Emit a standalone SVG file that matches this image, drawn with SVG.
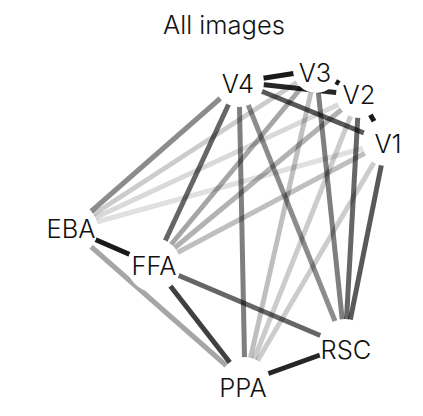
<svg xmlns="http://www.w3.org/2000/svg" width="423" height="416" viewBox="0 0 423 416">
<style>
.e{stroke:#000;stroke-width:5;stroke-linecap:butt;fill:none}
.n{fill:#fff;stroke:none}
.t{font-family:Inter,"Liberation Sans",sans-serif;font-size:25.5px;font-weight:350;fill:#111;text-anchor:middle}
</style>
<rect width="423" height="416" fill="#fff"/>
<text class="t" x="224" y="34">All images</text>
<g id="connectors">
<line class="e" x1="239" y1="82" x2="316" y2="70" stroke-opacity="0.9"/>
<line class="e" x1="239" y1="82" x2="359" y2="95" stroke-opacity="0.85"/>
<line class="e" x1="239" y1="82" x2="386" y2="142" stroke-opacity="0.65"/>
<line class="e" x1="316" y1="70" x2="359" y2="95" stroke-opacity="0.9"/>
<line class="e" x1="359" y1="95" x2="386" y2="142" stroke-opacity="0.9"/>
<line class="e" x1="239" y1="82" x2="71" y2="229" stroke-opacity="0.45"/>
<line class="e" x1="239" y1="82" x2="154" y2="265" stroke-opacity="0.6"/>
<line class="e" x1="239" y1="82" x2="245" y2="382" stroke-opacity="0.5"/>
<line class="e" x1="239" y1="82" x2="345" y2="346" stroke-opacity="0.45"/>
<line class="e" x1="316" y1="70" x2="71" y2="229" stroke-opacity="0.2"/>
<line class="e" x1="316" y1="70" x2="154" y2="265" stroke-opacity="0.35"/>
<line class="e" x1="316" y1="70" x2="245" y2="382" stroke-opacity="0.25"/>
<line class="e" x1="316" y1="70" x2="345" y2="346" stroke-opacity="0.5"/>
<line class="e" x1="359" y1="95" x2="71" y2="229" stroke-opacity="0.15"/>
<line class="e" x1="359" y1="95" x2="154" y2="265" stroke-opacity="0.3"/>
<line class="e" x1="359" y1="95" x2="245" y2="382" stroke-opacity="0.2"/>
<line class="e" x1="359" y1="95" x2="345" y2="346" stroke-opacity="0.6"/>
<line class="e" x1="386" y1="142" x2="71" y2="229" stroke-opacity="0.12"/>
<line class="e" x1="386" y1="142" x2="154" y2="265" stroke-opacity="0.25"/>
<line class="e" x1="386" y1="142" x2="245" y2="382" stroke-opacity="0.2"/>
<line class="e" x1="386" y1="142" x2="345" y2="346" stroke-opacity="0.65"/>
<line class="e" x1="71" y1="229" x2="154" y2="265" stroke-opacity="0.9"/>
<line class="e" x1="71" y1="229" x2="245" y2="382" stroke-opacity="0.35"/>
<line class="e" x1="154" y1="265" x2="245" y2="382" stroke-opacity="0.75"/>
<line class="e" x1="154" y1="265" x2="345" y2="346" stroke-opacity="0.6"/>
<line class="e" x1="245" y1="382" x2="345" y2="346" stroke-opacity="0.85"/>
</g>
<g id="V4"><circle class="n" cx="239" cy="82" r="25"/><text class="t" x="238" y="93">V4</text></g>
<g id="V3"><circle class="n" cx="316" cy="70" r="23"/><text class="t" x="315" y="82">V3</text></g>
<g id="V2"><circle class="n" cx="359" cy="95" r="23"/><text class="t" x="359" y="104">V2</text></g>
<g id="V1"><circle class="n" cx="386" cy="142" r="24"/><text class="t" x="388" y="153">V1</text></g>
<g id="EBA"><circle class="n" cx="71" cy="229" r="27"/><text class="t" x="71" y="238">EBA</text></g>
<g id="FFA"><circle class="n" cx="154" cy="265" r="27"/><text class="t" x="154" y="275">FFA</text></g>
<g id="RSC"><circle class="n" cx="345" cy="346" r="27"/><text class="t" x="346" y="359">RSC</text></g>
<g id="PPA"><circle class="n" cx="245" cy="382" r="25"/><text class="t" x="243" y="397">PPA</text></g>
</svg>
